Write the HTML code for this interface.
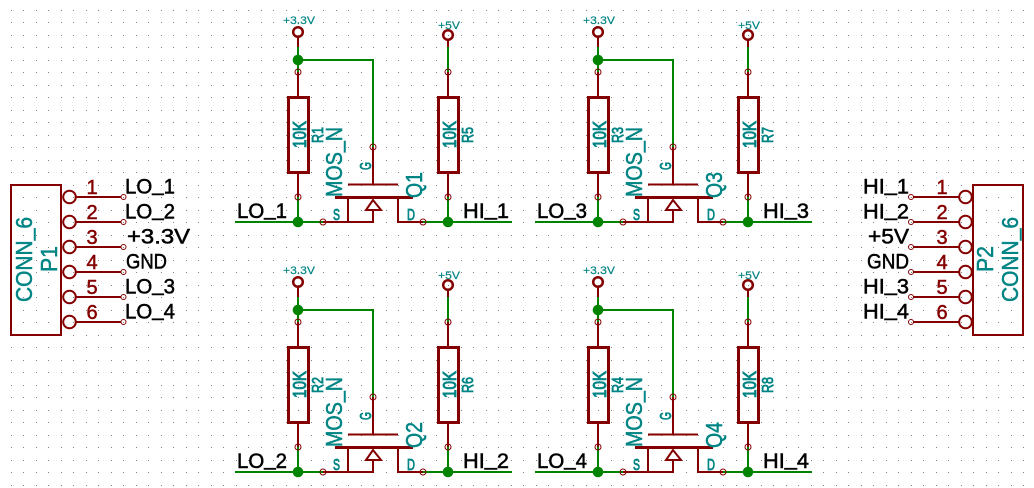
<!DOCTYPE html>
<html><head><meta charset="utf-8"><style>
html,body{margin:0;padding:0;background:#fff;width:1034px;height:488px;overflow:hidden}
svg{display:block}
text{font-family:"Liberation Sans",sans-serif}
.b{fill:#000;stroke:#000;stroke-width:.5px;font-size:21px}
.n{fill:#840000;stroke:#840000;stroke-width:.5px;font-size:20px}
.t{fill:#008484;stroke:#008484;stroke-width:.5px}
.l{font-size:23px}
.m{font-size:18px;stroke-width:.9px}
.s{font-size:16px;stroke-width:.8px}
.p{font-size:11px;stroke-width:.2px}
</style></head><body>
<svg width="1034" height="488" viewBox="0 0 1034 488" xmlns="http://www.w3.org/2000/svg">
<defs>
<pattern id="g" x="0" y="0" width="25" height="25" patternUnits="userSpaceOnUse">
<rect x="11" y="10" width="1" height="1" fill="#848484"/><rect x="23" y="10" width="1" height="1" fill="#848484"/>
<rect x="11" y="22" width="1" height="1" fill="#848484"/><rect x="23" y="22" width="1" height="1" fill="#848484"/>
</pattern>
<g id="cell">
<g fill="none" stroke="#008400" stroke-width="2">
<path d="M298 47V72M298 197V222M298 60H373V147M235 222H323M423 222H512M448 47V72M448 197V222"/>
</g>
<circle cx="298" cy="60" r="5.300" fill="#008400"/><circle cx="298" cy="222" r="5.300" fill="#008400"/><circle cx="448" cy="222" r="5.300" fill="#008400"/>
<g fill="none" stroke="#840000" stroke-width="2">
<circle cx="298" cy="32" r="4.800" stroke-width="2.500"/><circle cx="448" cy="35" r="4.800" stroke-width="2.500"/>
<path d="M298 37V47M448 40V47M298 72V97M298 173V197M448 72V97M448 173V197"/>
<path d="M373 147V184M348 184.5H398M348 197V222H373V210M323 222H348M398 197V222H423"/>
<path d="M373 200L366 210H381Z"/>
</g>
<g fill="none" stroke="#840000" stroke-width="3">
<rect x="288.5" y="97.5" width="20" height="75"/><rect x="438.5" y="97.5" width="20" height="75"/>
<path d="M335 197.5H413"/>
</g>
<g fill="none" stroke="#840000" stroke-width="1">
<circle cx="298" cy="72" r="3"/><circle cx="298" cy="197" r="3"/><circle cx="448" cy="72" r="3"/><circle cx="448" cy="197" r="3"/>
<circle cx="373" cy="147" r="3"/><circle cx="323" cy="222" r="3"/><circle cx="423" cy="222" r="3"/>
</g>
</g>
</defs>
<rect width="1034" height="488" fill="#fff"/>
<rect width="1034" height="488" fill="url(#g)"/>

<use href="#cell"/>
<use href="#cell" transform="translate(300,0)"/>
<use href="#cell" transform="translate(0,250)"/>
<use href="#cell" transform="translate(300,250)"/>

<!-- Q1 -->
<g>
<text class="t p" x="283" y="24" textLength="32" lengthAdjust="spacingAndGlyphs">+3.3V</text>
<text class="t p" x="438" y="29" textLength="22" lengthAdjust="spacingAndGlyphs">+5V</text>
<text class="t m" transform="translate(306,148) rotate(-90)" textLength="27" lengthAdjust="spacingAndGlyphs">10K</text>
<text class="t m" transform="translate(456,148) rotate(-90)" textLength="27" lengthAdjust="spacingAndGlyphs">10K</text>
<text class="t s" transform="translate(323,143) rotate(-90)" textLength="16" lengthAdjust="spacingAndGlyphs">R1</text>
<text class="t s" transform="translate(473,143) rotate(-90)" textLength="16" lengthAdjust="spacingAndGlyphs">R5</text>
<text class="t l" transform="translate(342,197) rotate(-90)" textLength="70" lengthAdjust="spacingAndGlyphs">MOS<tspan dy="-1">_</tspan><tspan dy="1">N</tspan></text>
<text class="t l" transform="translate(422,198) rotate(-90)" textLength="26" lengthAdjust="spacingAndGlyphs">Q1</text>
<text class="t s" transform="translate(371,170) rotate(-90)" textLength="8" lengthAdjust="spacingAndGlyphs">G</text>
<text class="t s" x="333" y="220" textLength="7" lengthAdjust="spacingAndGlyphs">S</text>
<text class="t s" x="407" y="220" textLength="8" lengthAdjust="spacingAndGlyphs">D</text>
<text class="b" x="237" y="218" textLength="50" lengthAdjust="spacingAndGlyphs">LO<tspan dy="-2.500">_</tspan><tspan dy="2.500">1</tspan></text>
<text class="b" x="463" y="218" textLength="46" lengthAdjust="spacingAndGlyphs">HI<tspan dy="-2.500">_</tspan><tspan dy="2.500">1</tspan></text>
</g>
<!-- Q3 -->
<g transform="translate(300,0)">
<text class="t p" x="283" y="24" textLength="32" lengthAdjust="spacingAndGlyphs">+3.3V</text>
<text class="t p" x="438" y="29" textLength="22" lengthAdjust="spacingAndGlyphs">+5V</text>
<text class="t m" transform="translate(306,148) rotate(-90)" textLength="27" lengthAdjust="spacingAndGlyphs">10K</text>
<text class="t m" transform="translate(456,148) rotate(-90)" textLength="27" lengthAdjust="spacingAndGlyphs">10K</text>
<text class="t s" transform="translate(323,143) rotate(-90)" textLength="16" lengthAdjust="spacingAndGlyphs">R3</text>
<text class="t s" transform="translate(473,143) rotate(-90)" textLength="16" lengthAdjust="spacingAndGlyphs">R7</text>
<text class="t l" transform="translate(342,197) rotate(-90)" textLength="70" lengthAdjust="spacingAndGlyphs">MOS<tspan dy="-1">_</tspan><tspan dy="1">N</tspan></text>
<text class="t l" transform="translate(422,198) rotate(-90)" textLength="26" lengthAdjust="spacingAndGlyphs">Q3</text>
<text class="t s" transform="translate(371,170) rotate(-90)" textLength="8" lengthAdjust="spacingAndGlyphs">G</text>
<text class="t s" x="333" y="220" textLength="7" lengthAdjust="spacingAndGlyphs">S</text>
<text class="t s" x="407" y="220" textLength="8" lengthAdjust="spacingAndGlyphs">D</text>
<text class="b" x="237" y="218" textLength="50" lengthAdjust="spacingAndGlyphs">LO<tspan dy="-2.500">_</tspan><tspan dy="2.500">3</tspan></text>
<text class="b" x="463" y="218" textLength="46" lengthAdjust="spacingAndGlyphs">HI<tspan dy="-2.500">_</tspan><tspan dy="2.500">3</tspan></text>
</g>
<!-- Q2 -->
<g transform="translate(0,250)">
<text class="t p" x="283" y="24" textLength="32" lengthAdjust="spacingAndGlyphs">+3.3V</text>
<text class="t p" x="438" y="29" textLength="22" lengthAdjust="spacingAndGlyphs">+5V</text>
<text class="t m" transform="translate(306,148) rotate(-90)" textLength="27" lengthAdjust="spacingAndGlyphs">10K</text>
<text class="t m" transform="translate(456,148) rotate(-90)" textLength="27" lengthAdjust="spacingAndGlyphs">10K</text>
<text class="t s" transform="translate(323,143) rotate(-90)" textLength="16" lengthAdjust="spacingAndGlyphs">R2</text>
<text class="t s" transform="translate(473,143) rotate(-90)" textLength="16" lengthAdjust="spacingAndGlyphs">R6</text>
<text class="t l" transform="translate(342,197) rotate(-90)" textLength="70" lengthAdjust="spacingAndGlyphs">MOS<tspan dy="-1">_</tspan><tspan dy="1">N</tspan></text>
<text class="t l" transform="translate(422,198) rotate(-90)" textLength="26" lengthAdjust="spacingAndGlyphs">Q2</text>
<text class="t s" transform="translate(371,170) rotate(-90)" textLength="8" lengthAdjust="spacingAndGlyphs">G</text>
<text class="t s" x="333" y="220" textLength="7" lengthAdjust="spacingAndGlyphs">S</text>
<text class="t s" x="407" y="220" textLength="8" lengthAdjust="spacingAndGlyphs">D</text>
<text class="b" x="237" y="218" textLength="50" lengthAdjust="spacingAndGlyphs">LO<tspan dy="-2.500">_</tspan><tspan dy="2.500">2</tspan></text>
<text class="b" x="463" y="218" textLength="46" lengthAdjust="spacingAndGlyphs">HI<tspan dy="-2.500">_</tspan><tspan dy="2.500">2</tspan></text>
</g>
<!-- Q4 -->
<g transform="translate(300,250)">
<text class="t p" x="283" y="24" textLength="32" lengthAdjust="spacingAndGlyphs">+3.3V</text>
<text class="t p" x="438" y="29" textLength="22" lengthAdjust="spacingAndGlyphs">+5V</text>
<text class="t m" transform="translate(306,148) rotate(-90)" textLength="27" lengthAdjust="spacingAndGlyphs">10K</text>
<text class="t m" transform="translate(456,148) rotate(-90)" textLength="27" lengthAdjust="spacingAndGlyphs">10K</text>
<text class="t s" transform="translate(323,143) rotate(-90)" textLength="16" lengthAdjust="spacingAndGlyphs">R4</text>
<text class="t s" transform="translate(473,143) rotate(-90)" textLength="16" lengthAdjust="spacingAndGlyphs">R8</text>
<text class="t l" transform="translate(342,197) rotate(-90)" textLength="70" lengthAdjust="spacingAndGlyphs">MOS<tspan dy="-1">_</tspan><tspan dy="1">N</tspan></text>
<text class="t l" transform="translate(422,198) rotate(-90)" textLength="26" lengthAdjust="spacingAndGlyphs">Q4</text>
<text class="t s" transform="translate(371,170) rotate(-90)" textLength="8" lengthAdjust="spacingAndGlyphs">G</text>
<text class="t s" x="333" y="220" textLength="7" lengthAdjust="spacingAndGlyphs">S</text>
<text class="t s" x="407" y="220" textLength="8" lengthAdjust="spacingAndGlyphs">D</text>
<text class="b" x="237" y="218" textLength="50" lengthAdjust="spacingAndGlyphs">LO<tspan dy="-2.500">_</tspan><tspan dy="2.500">4</tspan></text>
<text class="b" x="463" y="218" textLength="46" lengthAdjust="spacingAndGlyphs">HI<tspan dy="-2.500">_</tspan><tspan dy="2.500">4</tspan></text>
</g>

<!-- P1 -->
<g fill="none" stroke="#840000" stroke-width="2">
<rect x="11" y="185" width="50" height="150"/>
<circle cx="69.500" cy="197" r="6.300"/><circle cx="69.500" cy="222" r="6.300"/><circle cx="69.500" cy="247" r="6.300"/><circle cx="69.500" cy="272" r="6.300"/><circle cx="69.500" cy="297" r="6.300"/><circle cx="69.500" cy="322" r="6.300"/>
<path d="M76 197H121M76 222H121M76 247H121M76 272H121M76 297H121M76 322H121"/>
</g>
<g fill="none" stroke="#840000" stroke-width="1">
<circle cx="123.500" cy="197" r="2.500"/><circle cx="123.500" cy="222" r="2.500"/><circle cx="123.500" cy="247" r="2.500"/><circle cx="123.500" cy="272" r="2.500"/><circle cx="123.500" cy="297" r="2.500"/><circle cx="123.500" cy="322" r="2.500"/>
</g>
<g text-anchor="middle">
<text class="n" x="92" y="194">1</text><text class="n" x="92" y="219">2</text><text class="n" x="92" y="244">3</text><text class="n" x="92" y="269">4</text><text class="n" x="92" y="294">5</text><text class="n" x="92" y="319">6</text>
</g>
<text class="b" x="125" y="193.500" textLength="50" lengthAdjust="spacingAndGlyphs">LO<tspan dy="-2.500">_</tspan><tspan dy="2.500">1</tspan></text>
<text class="b" x="125" y="218.500" textLength="50" lengthAdjust="spacingAndGlyphs">LO<tspan dy="-2.500">_</tspan><tspan dy="2.500">2</tspan></text>
<text class="b" x="127" y="243.500" textLength="63" lengthAdjust="spacingAndGlyphs">+3.3V</text>
<text class="b" x="126" y="268.500" textLength="41" lengthAdjust="spacingAndGlyphs">GND</text>
<text class="b" x="125" y="293.500" textLength="50" lengthAdjust="spacingAndGlyphs">LO<tspan dy="-2.500">_</tspan><tspan dy="2.500">3</tspan></text>
<text class="b" x="125" y="318.500" textLength="50" lengthAdjust="spacingAndGlyphs">LO<tspan dy="-2.500">_</tspan><tspan dy="2.500">4</tspan></text>
<text class="t l" transform="translate(32,302) rotate(-90)" textLength="85" lengthAdjust="spacingAndGlyphs">CONN<tspan dy="-1">_</tspan><tspan dy="1">6</tspan></text>
<text class="t l" transform="translate(57,272) rotate(-90)" textLength="26" lengthAdjust="spacingAndGlyphs">P1</text>

<!-- P2 -->
<g fill="none" stroke="#840000" stroke-width="2">
<rect x="973" y="185" width="50" height="150"/>
<circle cx="965.500" cy="197" r="6.300"/><circle cx="965.500" cy="222" r="6.300"/><circle cx="965.500" cy="247" r="6.300"/><circle cx="965.500" cy="272" r="6.300"/><circle cx="965.500" cy="297" r="6.300"/><circle cx="965.500" cy="322" r="6.300"/>
<path d="M913 197H959M913 222H959M913 247H959M913 272H959M913 297H959M913 322H959"/>
</g>
<g fill="none" stroke="#840000" stroke-width="1">
<circle cx="911" cy="197" r="2.500"/><circle cx="911" cy="222" r="2.500"/><circle cx="911" cy="247" r="2.500"/><circle cx="911" cy="272" r="2.500"/><circle cx="911" cy="297" r="2.500"/><circle cx="911" cy="322" r="2.500"/>
</g>
<g text-anchor="middle">
<text class="n" x="942" y="194">1</text><text class="n" x="942" y="219">2</text><text class="n" x="942" y="244">3</text><text class="n" x="942" y="269">4</text><text class="n" x="942" y="294">5</text><text class="n" x="942" y="319">6</text>
</g>
<text class="b" x="863" y="193.500" textLength="46" lengthAdjust="spacingAndGlyphs">HI<tspan dy="-2.500">_</tspan><tspan dy="2.500">1</tspan></text>
<text class="b" x="863" y="218.500" textLength="46" lengthAdjust="spacingAndGlyphs">HI<tspan dy="-2.500">_</tspan><tspan dy="2.500">2</tspan></text>
<text class="b" x="868" y="243.500" textLength="41" lengthAdjust="spacingAndGlyphs">+5V</text>
<text class="b" x="867" y="268.500" textLength="42" lengthAdjust="spacingAndGlyphs">GND</text>
<text class="b" x="863" y="293.500" textLength="46" lengthAdjust="spacingAndGlyphs">HI<tspan dy="-2.500">_</tspan><tspan dy="2.500">3</tspan></text>
<text class="b" x="863" y="318.500" textLength="46" lengthAdjust="spacingAndGlyphs">HI<tspan dy="-2.500">_</tspan><tspan dy="2.500">4</tspan></text>
<text class="t l" transform="translate(993,272) rotate(-90)" textLength="26" lengthAdjust="spacingAndGlyphs">P2</text>
<text class="t l" transform="translate(1018,302) rotate(-90)" textLength="85" lengthAdjust="spacingAndGlyphs">CONN<tspan dy="-1">_</tspan><tspan dy="1">6</tspan></text>
</svg>
</body></html>
